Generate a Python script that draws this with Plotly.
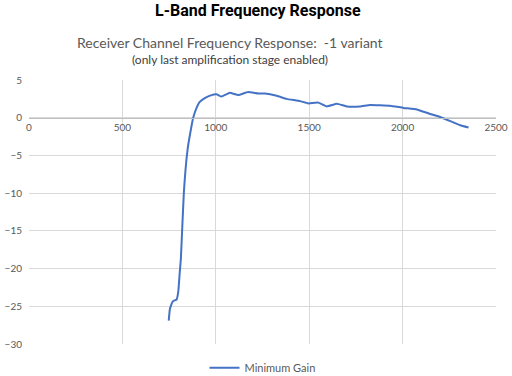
import plotly.graph_objects as go

freq_mhz = [748, 754, 763, 772, 790, 799, 807, 813, 820, 829, 849, 870, 879, 897, 914, 941, 977, 1004,
            1031, 1075, 1120, 1173, 1227, 1263, 1326, 1379, 1451, 1495, 1549, 1594, 1648, 1701,
            1772, 1826, 1933, 2004, 2076, 2147, 2201, 2255, 2308, 2353]
gain_db = [-26.9, -25.4, -24.7, -24.3, -24.1, -23.1, -20.5, -18.7, -14.8, -9.9, -4.2, -1.1, 0.0, 1.3, 2.1, 2.6, 3.0, 3.1,
           2.8, 3.3, 3.0, 3.4, 3.2, 3.2, 2.9, 2.5, 2.2, 1.9, 2.0, 1.5, 1.85, 1.5,
           1.5, 1.7, 1.6, 1.3, 1.1, 0.5, 0.1, -0.45, -1.0, -1.3]

x_ticks = [0, 500, 1000, 1500, 2000, 2500]
y_ticks = [5, 0, -5, -10, -15, -20, -25, -30]

series_name = "Minimum Gain"
title = "L-Band Frequency Response"
subtitle1 = "Receiver Channel Frequency Response:  -1 variant"
subtitle2 = "(only last amplification stage enabled)"

fig = go.Figure()
fig.add_trace(go.Scatter(x=freq_mhz, y=gain_db, mode="lines", name=series_name,
                         line=dict(color="#4472C4", width=2, shape="spline", smoothing=0.3)))

ymin, ymax = -30, 5
zero_pos = (0 - ymin) / (ymax - ymin)

fig.update_layout(
    width=512, height=376,
    margin=dict(l=29, r=16, t=80, b=32, autoexpand=False),
    paper_bgcolor="white", plot_bgcolor="white",
    font=dict(family="Lato", color="#595959", size=10),
    showlegend=True,
    legend=dict(orientation="h", x=0.5, xanchor="center", y=-0.09, yanchor="middle",
                font=dict(size=11, color="#595959"), itemwidth=30),
    xaxis=dict(range=[0, 2500], tickvals=x_ticks, ticktext=[str(v) for v in x_ticks],
               showgrid=True, gridcolor="#d9d9d9", gridwidth=1, zeroline=False,
               anchor="free", position=zero_pos, showline=True, linecolor="#bfbfbf",
               ticks="", automargin=False, tickfont=dict(size=10, color="#595959")),
    yaxis=dict(range=[ymin, ymax], tickvals=y_ticks, showgrid=True, gridcolor="#d9d9d9",
               zeroline=False, showline=False, ticks="", ticklabelstandoff=6, automargin=False,
               tickfont=dict(size=10, color="#595959")),
    annotations=[
        dict(text="<b>" + title + "</b>", xref="paper", yref="paper", x=0.49, y=1.0,
             yshift=70, showarrow=False, xanchor="center", yanchor="middle",
             font=dict(family="Roboto", size=16, color="#000000")),
        dict(text=subtitle1, xref="paper", yref="paper", x=0.43, y=1.0,
             yshift=38, showarrow=False, xanchor="center", yanchor="middle",
             font=dict(family="Lato", size=14, color="#595959")),
        dict(text=subtitle2, xref="paper", yref="paper", x=0.43, y=1.0,
             yshift=21, showarrow=False, xanchor="center", yanchor="middle",
             font=dict(family="Lato", size=12, color="#404040")),
    ],
)

fig.write_html("out.html", config={"displayModeBar": False},
               post_script="document.body.style.margin='0';")
